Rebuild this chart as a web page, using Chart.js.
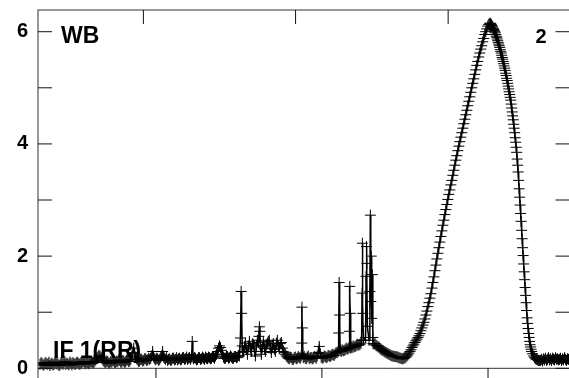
<!DOCTYPE html>
<html>
<head>
<meta charset="utf-8">
<script src="https://cdn.jsdelivr.net/npm/chart.js@4.4.1/dist/chart.umd.min.js"></script>
<style>
  html, body { margin: 0; padding: 0; width: 569px; height: 378px; overflow: hidden; background: #fff; }
  #c { position: absolute; left: 0; top: 0; }
</style>
</head>
<body>
<canvas id="c" width="576" height="390"></canvas>
<script>
// ---- data (x in channel units, y = signal) ----
const baselineLeft = [[2,.07],[3,.10],[4,.09],[5,.06],[6,.06],[7,.09],[8,.10],[9,.07],[10,.08],[11,.11],[12,.05],[13,.08],[14,.09],[15,.06],[16,.07],[17,.10],[18,.11],[19,.08],[20,.08],[21,.05],[22,.06],[23,.10],[24,.09],[25,.07],[26,.10],[27,.12],[28,.07],[29,.09],[30,.08],[31,.06],[32,.11],[33,.09],[34,.06],[35,.10],[36,.09],[37,.07],[38,.08],[39,.11],[40,.10],[41,.08],[42,.07],[43,.10],[44,.09],[45,.12],[46,.12],[47,.09],[48,.08],[49,.11],[50,.10],[51,.08],[52,.09],[53,.12],[54,.11],[55,.09],[56,.10],
[57,.13],[58,.15],[59,.18],[60,.20],[61,.23],[62,.22],[63,.20],[64,.18],[65,.15],[66,.13],[67,.11],
[68,.10],[69,.13],[70,.12],[71,.09],[72,.09],[73,.12],[74,.11],[75,.14],[76,.13],[77,.10],[78,.10],[79,.13],[80,.12],[81,.15],[82,.14],[83,.11],[84,.11],[85,.14],[86,.13],[87,.10],[88,.12],[89,.15],[90,.15],[91,.12],[92,.13],[93,.16],
[94,.22],[95,.28],[96,.36],[97,.26],[98,.20],[99,.17],[100,.15],[101,.12],[102,.13],[103,.16],[104,.16],[105,.13],[106,.14],[107,.17],[108,.17],[109,.14],[110,.15],[111,.18],[112,.16]];

const baselineMid = [[113,.18],[114,.22],[115,.30],[116,.20],[117,.17],[118,.15],[119,.18],[120,.17],[121,.14],[122,.16],[123,.19],[124,.22],[125,.30],[126,.20],[127,.18],[128,.16],[129,.19],[130,.14],[131,.16],[132,.17],[133,.14],[134,.15],[135,.18],[136,.18],[137,.15],[138,.16],[139,.19],[140,.15],[141,.17],[142,.18],[143,.15],[144,.16],[145,.19],[146,.19],[147,.16],[148,.17],[149,.20],[150,.16],[151,.18],[152,.19],[153,.16],
[154,.20],[154.7,.48],[155.3,.20],[156,.17],[157,.19],[158,.18],[159,.15],[160,.16],[161,.19],[162,.19],[163,.16],[164,.17],[165,.20],[166,.18],[167,.16],[168,.20],[169,.18],[170,.17],[171,.20],[172,.19],[173,.17],[174,.18],[175,.21],[176,.20],[177,.18],[178,.22],[179,.25],
[180,.30],[181,.36],[182,.40],[183,.37],[184,.32],[185,.25],[186,.20],[187,.18],[188,.18],[189,.21],[190,.21],[191,.18],[192,.19],[193,.22],[194,.20],[195,.18],[196,.18],[197,.21],[198,.21],[199,.19],[200,.20],[201,.23],[202,.22]];

const spikeZone = [[203,.54],[203.7,1.37],[204.2,.98],[204.8,.40],
[205.5,.28],[206,.30],[207,.38],[208,.45],[209,.33],[210,.25],[211,.40],[212,.48],[213,.36],[214,.30],[215,.44],[216,.42],[217,.30],[218,.22],[219,.40],[220,.50],[221,.46],[221.5,.57],[222,.74],[222.5,.66],[223,.40],[224,.25],[225,.38],[226,.47],[227,.35],[228,.30],[229,.42],[230,.45],[231,.48],[232,.50],[233,.36],[234,.28],[235,.40],[236,.44],[237,.34],[238,.30],[239,.45],[240,.50],[241,.40],[242,.35],[243,.44],[244,.46],[245,.36],[246,.30],[247,.28],[248,.25],[249,.22],
[250,.20],[251,.18],[252,.17],[253,.20],[254,.19],[255,.16],[256,.16],[257,.19],[258,.20],[259,.17],[260,.18],[261,.21],[262,.19],[263,.18],[264,.22],[264.5,.45],[264.7,1.09],[265,.72],[265.5,.25],[266,.19],[267,.21],[268,.18],[269,.17],[270,.20],[271,.22],[272,.17],[273,.19],[274,.19],[275,.17],[276,.18],[277,.21],[278,.20],[279,.18],[280,.22],[281,.28],[282,.39],[283,.26],[284,.20],[285,.18],[286,.19],[287,.22],[288,.21],[289,.19],[290,.20],[291,.23],[292,.22],[293,.21],[294,.23],[295,.25],[296,.24],[297,.23],[298,.26],[299,.28],[300,.28],[301,.30],
[301.5,.63],[302,1.53],[302.5,.95],[303,.32],[304,.30],[305,.33],[306,.31],[307,.32],[308,.33],[309,.36],[310,.34],[311,.35],[312,.37],[312.3,.66],[312.7,1.46],[313.1,.98],[313.6,.36],[314,.38],[315,.37],[316,.40],[317,.38],[318,.39],[319,.40],[320,.43],[321,.41],[322,.42],[323,.43],[324,.45],
[324.5,.50],[325,1.34],[325.3,2.23],[325.7,.98],[326.5,.50],[328.5,.55],[329,1.64],[329.4,2.17],[329.8,1.87],[330.3,.75],[332,.50],[332.8,1.37],[333.3,2.73],[333.7,1.19],[334.2,2.00],[334.6,.89],[335.3,1.67],[335.8,.55]];

const humpDown = [[336,.44],[337,.43],[338,.44],[339,.41],[340,.40],[341,.38],[342,.38],[343,.35],[344,.34],[345,.32],[346,.32],[347,.30],[348,.29],[349,.28],[350,.27],[351,.26],[352,.25],[353,.24],[354,.23],[355,.22],[356,.22],[357,.21]];

const peakRise = [[358,.21],[359,.21],[360,.20],[361,.20],[362,.19],[363,.18],[364,.18],[365,.17],[366,.17],[367,.18],[368,.19],[369,.20],[370,.22],[371,.24],[372,.27],[373,.30],[374,.33],[375,.37],[376,.40],[377,.43],[378,.46],[379,.49],[380,.52],[381,.55],[382,.58],[383,.62],[384,.67],[385,.72],[386,.77],[387,.82],[388,.88],[389,.95],[390,1.02],[391,1.10],[392,1.17],[393,1.25],[394,1.33],[395,1.43],[396,1.53],[397,1.63],[398,1.74],[399,1.84],[400,1.95],[401,2.05],[402,2.15],[403,2.25],[404,2.35],[405,2.45],[406,2.55],[407,2.64],[408,2.74],[409,2.83],[410,2.92],[411,3.01],[412,3.10],[413,3.18],[414,3.27],[415,3.35],[416,3.44],[417,3.53],[418,3.62],[419,3.71],[420,3.79],[421,3.88],[422,3.96],[423,4.04],[424,4.12],[425,4.20],[426,4.28],[427,4.36],[428,4.44],[429,4.52],[430,4.60],[431,4.68],[432,4.76],[433,4.84],[434,4.92],[435,5.00],[436,5.08],[437,5.16],[438,5.24],[439,5.32],[440,5.40],[441,5.47],[442,5.55],[443,5.62],[444,5.69],[445,5.75],[446,5.82],[447,5.88],[448,5.95],[449,6.00],[450,6.05],[451,6.10],[452,6.13],[453,6.15]];

const peakFall = [[453.5,6.15],[454,6.14],[454.5,6.13],[455,6.11],[455.5,6.10],[456,6.08],[456.5,6.06],[457,6.04],[457.5,6.02],[458,6.00],[458.5,5.98],[459,5.95],[459.5,5.92],[460,5.90],[460.5,5.87],[461,5.84],[461.5,5.81],[462,5.78],[462.5,5.75],[463,5.72],[463.5,5.68],[464,5.65],[464.5,5.62],[465,5.58],[465.5,5.54],[466,5.51],[466.5,5.47],[467,5.43],[467.5,5.39],[468,5.35],[468.5,5.31],[469,5.26],[469.5,5.22],[470,5.17],[470.5,5.13],[471,5.08],[471.5,5.03],[472,4.98],[472.5,4.93],[473,4.88],[473.5,4.83],[474,4.78],[474.5,4.71],[475,4.64],[475.5,4.57],[476,4.50],[476.5,4.43],[477,4.35],[477.5,4.28],[478,4.20],[478.5,4.11],[479,4.03],[479.5,3.94],[480,3.85],[480.5,3.73],[481,3.62],[481.5,3.50],[482,3.35],[482.5,3.20],[483,3.05],[483.5,2.91],[484,2.76],[484.5,2.62],[485,2.46],[485.5,2.31],[486,2.15],[486.5,2.01],[487,1.86],[487.5,1.72],[488,1.58],[488.5,1.44],[489,1.30],[489.5,1.17],[490,1.03],[490.5,0.90],[491,0.80],[491.5,0.71],[492,0.62],[492.5,0.55],[493,0.48],[493.5,0.42],[494,0.38],[494.5,0.34],[495,0.30],[496,0.26],[497,0.22],[498,0.19],[499,0.17],[500,0.16],[501,0.15],[502,0.14],[503,0.14]];

const tail = [[504,.14],[505,.16],[506,.13],[507,.17],[508,.15],[509,.18],[510,.14],[511,.16],[512,.19],[513,.15],[514,.17],[515,.14],[516,.18],[517,.16],[518,.15],[519,.19],[520,.16],[521,.17],[522,.15],[523,.16],[524,.18],[525,.14],[526,.17],[527,.15],[528,.19],[529,.16],[530,.14],[531,.17],[532,.16],[533,.15]];

// axis ticks and labels
const yTickValues = [0, 1, 2, 3, 4, 5, 6];
const yTickLabels = {0: '0', 2: '2', 4: '4', 6: '6'};
const bottomTickPositions = [118.3, 284.7, 451.3];
const topTickPositions = [105.7, 258.3, 411.3];
const panelLabels = { topLeft: 'WB', topRight: '2', bottomLeft: 'IF 1(RR)' };

const points = [...baselineLeft, ...baselineMid, ...spikeZone, ...humpDown, ...peakRise, ...peakFall, ...tail]
  .map(([x, y]) => ({ x, y }));

const framePlugin = {
  id: 'frame',
  beforeDatasetsDraw(chart) {
    const { ctx, chartArea: a } = chart;
    ctx.save();
    ctx.fillStyle = '#000';
    ctx.textBaseline = 'alphabetic';
    ctx.font = 'bold 23px "Liberation Sans", Arial, sans-serif';
    ctx.fillText(panelLabels.topLeft, a.left + 23, a.top + 32.7);
    ctx.fillText(panelLabels.bottomLeft, a.left + 15, a.top + 347.5);
    ctx.font = 'bold 20px "Liberation Sans", Arial, sans-serif';
    ctx.fillText(panelLabels.topRight, a.right - 34, a.top + 32.7);
    ctx.restore();
  },
  afterDatasetsDraw(chart) {
    const { ctx, chartArea: a, scales: { x, y } } = chart;
    ctx.save();
    ctx.lineWidth = 1;
    ctx.strokeStyle = '#333';
    ctx.strokeRect(a.left, a.top, a.right - a.left, a.bottom - a.top);
    const y0 = y.getPixelForValue(0);
    ctx.beginPath();
    ctx.moveTo(a.left, y0); ctx.lineTo(a.right, y0);
    ctx.stroke();
    ctx.strokeStyle = '#111';
    ctx.beginPath();
    yTickValues.forEach(v => {
      const py = y.getPixelForValue(v);
      ctx.moveTo(a.left, py); ctx.lineTo(a.left + 14, py);
      ctx.moveTo(a.right - 14, py); ctx.lineTo(a.right, py);
    });
    bottomTickPositions.forEach(v => {
      const px = x.getPixelForValue(v);
      ctx.moveTo(px, a.bottom); ctx.lineTo(px, a.bottom - 14);
    });
    topTickPositions.forEach(v => {
      const px = x.getPixelForValue(v);
      ctx.moveTo(px, a.top); ctx.lineTo(px, a.top + 14);
    });
    ctx.stroke();
    ctx.restore();
  }
};

new Chart(document.getElementById('c').getContext('2d'), {
  type: 'line',
  data: {
    datasets: [{
      data: points,
      borderColor: '#000',
      borderWidth: 1.5,
      pointStyle: 'cross',
      pointRadius: 5.5,
      pointBorderColor: '#000',
      pointBackgroundColor: '#000',
      pointBorderWidth: 1,
      tension: 0,
      fill: false
    }]
  },
  options: {
    responsive: false,
    animation: false,
    devicePixelRatio: 1,
    layout: { padding: { top: 10, right: 5, bottom: 8, left: 0 } },
    plugins: { legend: { display: false }, tooltip: { enabled: false } },
    scales: {
      x: { type: 'linear', min: 0, max: 533, display: false },
      y: {
        type: 'linear', min: -0.244, max: 6.387, position: 'left',
        grid: { display: false, drawTicks: false },
        border: { display: false },
        ticks: {
          stepSize: 1, includeBounds: false, autoSkip: false, padding: 10,
          color: '#000',
          font: { family: '"Liberation Sans", Arial, sans-serif', weight: 'bold', size: 20 },
          callback: v => (yTickLabels[v] !== undefined ? yTickLabels[v] : '')
        },
        afterFit(s) { s.width = 38; s.paddingTop = 0; s.paddingBottom = 0; }
      }
    }
  },
  plugins: [framePlugin]
});
</script>
</body>
</html>
